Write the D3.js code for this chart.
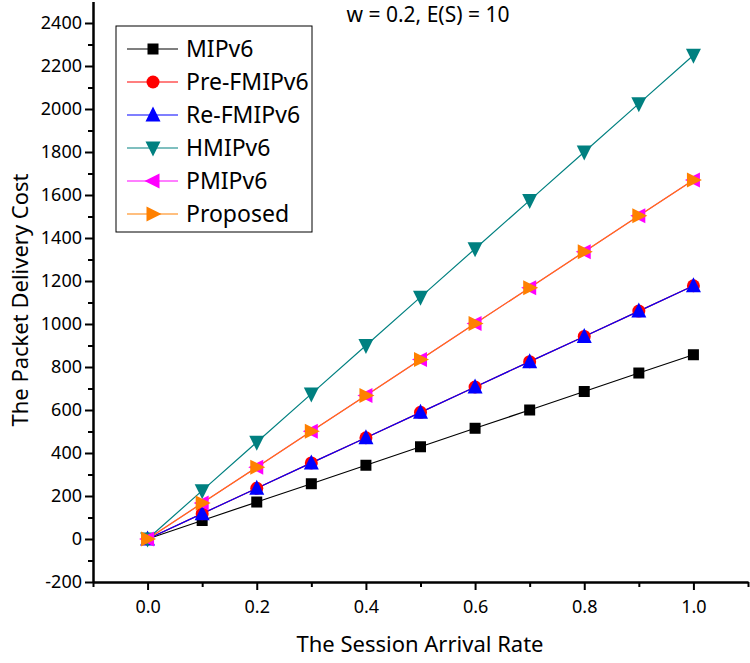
<!DOCTYPE html>
<html>
<head>
<meta charset="utf-8">
<script src="https://cdnjs.cloudflare.com/ajax/libs/d3/7.8.5/d3.min.js"></script>
<style>
  body { margin: 0; background: #fff; }
  text { font-family: "Noto Sans", sans-serif; }
</style>
</head>
<body>
<div id="chart"></div>
<script>
// session arrival rate
var rates = [0.0, 0.1, 0.2, 0.3, 0.4, 0.5, 0.6, 0.7, 0.8, 0.9, 1.0];

var seriesNames = ["MIPv6", "Pre-FMIPv6", "Re-FMIPv6", "HMIPv6", "PMIPv6", "Proposed"];
var mipv6     = [0, 86, 172, 257, 343, 429, 515, 600, 686, 772, 857];
var preFmipv6 = [0, 118, 236, 354, 471, 589, 707, 825, 942, 1060, 1178];
var reFmipv6  = [0, 118, 236, 354, 471, 589, 707, 825, 942, 1060, 1178];
var hmipv6    = [0, 225, 450, 675, 900, 1125, 1350, 1575, 1800, 2025, 2250];
var pmipv6    = [0, 167, 334, 501, 668, 835, 1002, 1169, 1336, 1503, 1670];
var proposed  = [0, 167, 334, 501, 668, 835, 1002, 1169, 1336, 1503, 1670];

var xTicks = [0.0, 0.2, 0.4, 0.6, 0.8, 1.0];
var yTicks = [-200, 0, 200, 400, 600, 800, 1000, 1200, 1400, 1600, 1800, 2000, 2200, 2400];

var allValues = [mipv6, preFmipv6, reFmipv6, hmipv6, pmipv6, proposed];
var colors = ["#000000", "#ff0000", "#0000ff", "#008080", "#ff00ff", "#ff8000"];
var symbols = ["square", "circle", "triUp", "triDown", "triLeft", "triRight"];

var width = 750, height = 663;

var x = d3.scaleLinear().domain([-0.1, 1.1]).range([93, 748]);
var y = d3.scaleLinear().domain([-200, 2500]).range([582, 1.5]);

var svg = d3.select("#chart").append("svg")
    .attr("width", width)
    .attr("height", height);

function marker(g, type, color) {
    var s = 7.5;
    if (type == "square") {
        g.append("rect").attr("x", -5.5).attr("y", -5.5).attr("width", 11).attr("height", 11).attr("fill", color);
    } else if (type == "circle") {
        g.append("circle").attr("r", 6.5).attr("fill", color);
    } else {
        var pts;
        if (type == "triUp") pts = [[0, -s - 1], [s, s - 1], [-s, s - 1]];
        if (type == "triDown") pts = [[0, s + 1], [s, -s + 1], [-s, -s + 1]];
        if (type == "triLeft") pts = [[-s - 1, 0], [s - 1, -s], [s - 1, s]];
        if (type == "triRight") pts = [[s + 1, 0], [-s + 1, -s], [-s + 1, s]];
        g.append("polygon").attr("points", pts.map(p => p.join(",")).join(" ")).attr("fill", color);
    }
}

// lines + markers
var line = d3.line()
    .x((d, i) => x(rates[i]))
    .y(d => y(d));

for (let k = 0; k < allValues.length; k++) {
    svg.append("path")
        .datum(allValues[k])
        .attr("d", line)
        .attr("fill", "none")
        .attr("stroke", colors[k])
        .attr("stroke-width", 1.2);
}
for (let k = 0; k < allValues.length; k++) {
    allValues[k].forEach(function (v, i) {
        var g = svg.append("g").attr("transform", `translate(${x(rates[i])},${y(v)})`);
        marker(g, symbols[k], colors[k]);
    });
}

// axes
var xAxis = svg.append("g")
    .attr("transform", `translate(0,${y(-200)})`)
    .call(d3.axisBottom(x).tickValues(xTicks).tickFormat(d3.format(".1f")).tickSize(8).tickSizeOuter(0));
svg.append("g")
    .attr("transform", `translate(0,${y(-200)})`)
    .call(d3.axisBottom(x).tickValues([-0.1, 0.1, 0.3, 0.5, 0.7, 0.9, 1.1]).tickFormat("").tickSize(5).tickSizeOuter(0));

var yAxis = svg.append("g")
    .attr("transform", `translate(${x(-0.1)},0)`)
    .call(d3.axisLeft(y).tickValues(yTicks).tickFormat(d => String(d)).tickSize(8).tickSizeOuter(0));
svg.append("g")
    .attr("transform", `translate(${x(-0.1)},0)`)
    .call(d3.axisLeft(y).tickValues(d3.range(-100, 2500, 200)).tickFormat("").tickSize(5).tickSizeOuter(0));

svg.selectAll(".domain").attr("stroke", "#000").attr("stroke-width", 2);
svg.selectAll(".tick line").attr("stroke", "#000").attr("stroke-width", 2);
xAxis.selectAll("text").attr("font-size", 18).attr("dy", "1.1em").attr("fill", "#000");
yAxis.selectAll("text").attr("font-size", 18).attr("x", -11).attr("fill", "#000");

// axis titles
svg.append("text")
    .attr("x", 420).attr("y", 652)
    .attr("text-anchor", "middle")
    .attr("font-size", 22)
    .text("The Session Arrival Rate");
svg.append("text")
    .attr("transform", "translate(28,300) rotate(-90)")
    .attr("text-anchor", "middle")
    .attr("font-size", 22)
    .text("The Packet Delivery Cost");

svg.append("text")
    .attr("x", 428).attr("y", 22)
    .attr("text-anchor", "middle")
    .attr("font-size", 21)
    .text("w = 0.2, E(S) = 10");

// legend
var legend = svg.append("g").attr("transform", "translate(116,26)");
legend.append("rect")
    .attr("width", 196).attr("height", 206)
    .attr("fill", "#fff").attr("stroke", "#000").attr("stroke-width", 1);
seriesNames.forEach(function (name, i) {
    var ly = 23 + i * 33;
    legend.append("line")
        .attr("x1", 11).attr("x2", 62).attr("y1", ly).attr("y2", ly)
        .attr("stroke", colors[i]).attr("stroke-width", 1.2);
    var g = legend.append("g").attr("transform", `translate(37,${ly})`);
    marker(g, symbols[i], colors[i]);
    legend.append("text")
        .attr("x", 70).attr("y", ly)
        .attr("dy", "0.35em")
        .attr("font-size", 23)
        .text(name);
});
</script>
</body>
</html>
